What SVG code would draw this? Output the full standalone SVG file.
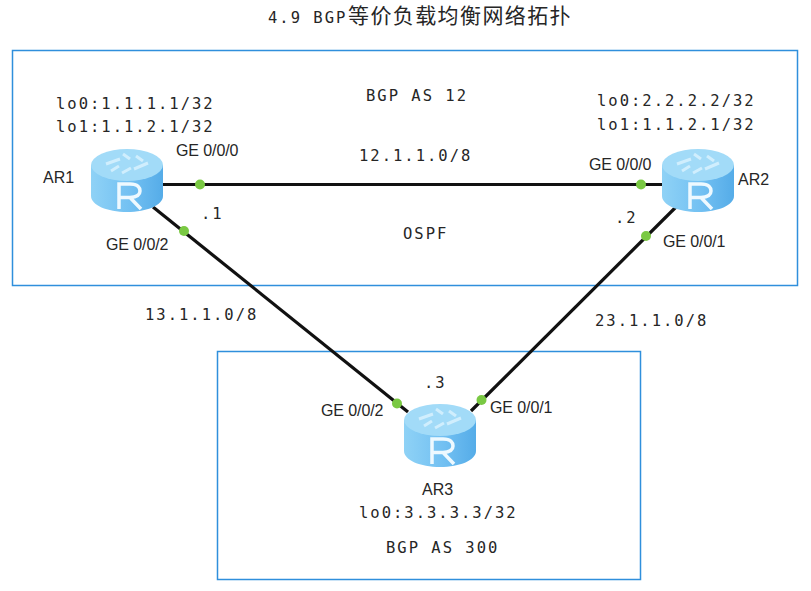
<svg xmlns="http://www.w3.org/2000/svg" width="811" height="591" viewBox="0 0 811 591">
<style>
text{fill:#262626}
.m{font-family:"DejaVu Sans Mono","Liberation Mono",monospace;font-size:15.500px;letter-spacing:2px}
.a{font-family:"Liberation Sans",Arial,sans-serif;font-size:16px;letter-spacing:-.1px}
.n{font-family:"Liberation Sans",Arial,sans-serif;font-size:16px}
.z{fill:none;stroke:#2f8fdc;stroke-width:1.5}
.l{stroke:#111;stroke-width:3.2;fill:none}
.d{fill:#7ac943}
.g{fill:none;stroke:#dff4ff;stroke-width:3;opacity:.75}
</style>
<defs>
<linearGradient id="b" x1="0" x2="1" y1="0" y2="0">
<stop offset="0" stop-color="#8fd2f6"/><stop offset=".55" stop-color="#72c0f2"/><stop offset="1" stop-color="#55ace8"/>
</linearGradient>
<g id="r">
<path d="M0 16V47C0 56 16 63 36 63S72 56 72 47V16Z" fill="url(#b)"/>
<ellipse cx="36" cy="16" rx="36" ry="16" fill="#a2dbf8"/>
<path class="g" d="M15 15L29 10M43 20L57 14M32 5L39 10M31 24L40 19M20 22L28 17M45 7L52 12"/>
<path d="M28 60V35H39C47 35 49 39 49 42S47 48 39 48.500L50 60M28 48.500H39" fill="none" stroke="#eef9ff" stroke-width="3.500"/>
</g>
</defs>
<text class="m" x="268" y="23">4.9 BGP</text>
<text x="348" y="23" style="font-family:'Noto Sans CJK SC',sans-serif;font-size:21px;letter-spacing:1.400px">等价负载均衡网络拓扑</text>
<g id="areas">
<rect class="z" x="12.500" y="50.500" width="785" height="235"/>
<rect class="z" x="217.500" y="351.500" width="423" height="228"/>
</g>
<g id="connectors">
<path class="l" d="M163 184.500H662"/>
<path class="l" d="M153 207L408 412"/>
<path class="l" d="M676 207L471 411"/>
<circle class="d" cx="200" cy="184.500" r="5"/>
<circle class="d" cx="641" cy="184.500" r="5"/>
<circle class="d" cx="184" cy="231" r="5"/>
<circle class="d" cx="646" cy="236" r="5"/>
<circle class="d" cx="397" cy="403.500" r="5"/>
<circle class="d" cx="481.500" cy="400" r="5"/>
</g>
<g id="AR1">
<use href="#r" x="91" y="149"/>
<text class="n" x="43" y="183">AR1</text>
<text class="m" x="56" y="109">lo0:1.1.1.1/32</text>
<text class="m" x="56" y="132">lo1:1.1.2.1/32</text>
</g>
<g id="AR2">
<use href="#r" x="662" y="149"/>
<text class="n" x="738" y="185">AR2</text>
<text class="m" x="597" y="106">lo0:2.2.2.2/32</text>
<text class="m" x="597" y="130">lo1:1.1.2.1/32</text>
</g>
<g id="AR3">
<use href="#r" x="404" y="404"/>
<text class="n" x="422" y="495">AR3</text>
<text class="m" x="359" y="518">lo0:3.3.3.3/32</text>
</g>
<g id="labels">
<text class="m" x="366" y="101">BGP AS 12</text>
<text class="m" x="359" y="161">12.1.1.0/8</text>
<text class="m" x="403" y="239">OSPF</text>
<text class="m" x="145" y="320">13.1.1.0/8</text>
<text class="m" x="595" y="326">23.1.1.0/8</text>
<text class="m" x="386" y="553">BGP AS 300</text>
<text class="m" x="201" y="219">.1</text>
<text class="m" x="615" y="223">.2</text>
<text class="m" x="424" y="388">.3</text>
<text class="a" x="176" y="156">GE 0/0/0</text>
<text class="a" x="589" y="170">GE 0/0/0</text>
<text class="a" x="106" y="250">GE 0/0/2</text>
<text class="a" x="663" y="247">GE 0/0/1</text>
<text class="a" x="321" y="416">GE 0/0/2</text>
<text class="a" x="490" y="413">GE 0/0/1</text>
</g>
</svg>
